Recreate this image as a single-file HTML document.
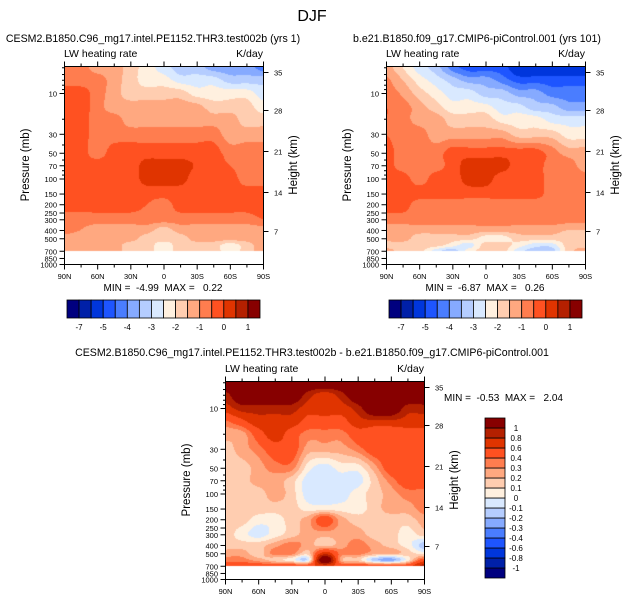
<!DOCTYPE html>
<html><head><meta charset="utf-8">
<style>
html,body{margin:0;padding:0;background:#fff;}
#wrap{position:relative;width:625px;height:602px;overflow:hidden;font-family:"Liberation Sans",sans-serif;}
canvas{position:absolute;}
svg{position:absolute;left:0;top:0;}
svg text{white-space:pre;}
</style></head>
<body>
<div id="wrap">
<canvas id="c1"></canvas>
<canvas id="c2"></canvas>
<canvas id="c3"></canvas>
<svg id="s" width="625" height="602"></svg>
</div>
<script>
const lats = [90,75,60,45,30,15,0,-15,-30,-45,-60,-75,-90];
const pLevels = [5,7,10,15,20,30,50,70,100,150,200,300,400,500,600,700];
const levels12 = [-7,-6,-5,-4.5,-4,-3.5,-3,-2.5,-2,-1.5,-1,-0.5,0,0.5,1];
const labels12 = ["-7","-5","-4","-3","-2","-1","0","1"];
const levels3 = [-1,-0.8,-0.6,-0.4,-0.3,-0.2,-0.1,0,0.1,0.2,0.3,0.4,0.6,0.8,1];
const labels3 = ["-1","-0.8","-0.6","-0.4","-0.3","-0.2","-0.1","0","0.1","0.2","0.3","0.4","0.6","0.8","1"];
const colors = ["#00007f","#0020a8","#0036dc","#1e55ff","#4a7dff","#86aaff","#b5cdff","#d9e9ff","#fff0df","#ffcdb0","#ffa880","#ff7d4f","#ff5121","#e03400","#b42000","#870000"];
const field1 = [
[-0.75,-0.75,-1.25,-1.25,-1.75,-2.25,-2.75,-3.25,-3.25,-3.75,-3.75,-3.75,-4.25],
[-0.75,-0.75,-0.75,-1.25,-1.75,-2.25,-2.25,-2.75,-2.75,-2.75,-3.25,-3.25,-3.25],
[-0.25,-0.25,-0.75,-1.25,-1.75,-1.75,-1.75,-1.75,-2.25,-2.25,-2.25,-2.25,-2.75],
[-0.25,-0.25,-0.75,-1.25,-1.25,-1.25,-1.25,-1.25,-1.25,-1.75,-1.75,-1.75,-2.25],
[-0.25,-0.25,-0.75,-0.75,-1.25,-1.25,-1.25,-1.25,-1.25,-1.25,-1.25,-1.75,-1.75],
[-0.25,-0.25,-0.75,-0.75,-0.75,-0.75,-0.75,-0.75,-0.75,-0.75,-1.25,-1.25,-1.25],
[-0.25,-0.25,-0.75,-0.25,-0.25,-0.25,-0.25,-0.25,-0.25,-0.25,-0.75,-0.75,-0.75],
[-0.25,-0.25,-0.25,-0.25,-0.25,0.2,0.2,0.2,-0.05,-0.25,-0.5,-0.75,-0.75],
[-0.25,-0.25,-0.25,-0.25,-0.25,0.2,0.2,0.2,-0.25,-0.25,-0.25,-0.75,-0.75],
[-0.25,-0.25,-0.25,-0.25,-0.25,-0.25,-0.25,-0.25,-0.25,-0.25,-0.25,-0.25,-0.25],
[-0.25,-0.25,-0.25,-0.25,-0.25,-0.5,-0.75,-0.25,-0.25,-0.25,-0.25,-0.25,-0.25],
[-0.75,-0.75,-0.75,-0.75,-0.75,-0.75,-0.75,-0.75,-0.75,-0.75,-0.75,-0.75,-0.5],
[-0.75,-1.0,-1.25,-1.25,-1.25,-1.25,-1.75,-1.25,-1.25,-1.25,-1.25,-1.25,-1.25],
[-1.25,-1.25,-1.25,-1.25,-1.25,-1.75,-1.75,-1.75,-1.25,-1.25,-1.25,-1.25,-1.25],
[-1.25,-1.25,-1.25,-1.25,-1.75,-1.75,-2.25,-1.75,-1.75,-1.75,-2.25,-1.75,-1.25],
[-1.25,-1.25,-1.25,-1.25,-1.75,-1.75,-2.25,-1.75,-1.75,-1.75,-2.25,-1.75,-1.25]];
const field2 = [
[-1.25,-2.0,-2.75,-3.25,-4.25,-4.75,-4.75,-4.75,-5.5,-5.5,-5.5,-5.5,-5.5],
[-0.9,-1.5,-2.25,-2.75,-3.25,-3.75,-3.75,-4.25,-4.75,-4.75,-4.75,-4.75,-4.75],
[-0.75,-1.1,-1.75,-2.25,-2.75,-2.75,-3.25,-3.25,-3.75,-3.75,-4.25,-4.25,-4.25],
[-0.5,-0.75,-1.25,-1.75,-2.25,-2.25,-2.25,-2.75,-2.75,-3.25,-3.25,-3.75,-3.75],
[-0.5,-0.75,-1.25,-1.25,-1.75,-1.75,-1.75,-2.25,-2.25,-2.25,-2.75,-2.75,-2.75],
[-0.5,-0.75,-0.75,-1.25,-1.25,-1.25,-1.25,-1.25,-1.75,-1.75,-1.75,-2.25,-2.25],
[-0.25,-0.75,-0.75,-0.75,-0.25,-0.25,-0.25,-0.25,-0.25,-0.25,-0.75,-1.25,-1.25],
[-0.25,-0.75,-0.75,-0.75,-0.25,0.2,0.2,0.2,-0.25,-0.25,-0.75,-0.75,-1.25],
[-0.25,-0.25,-0.75,-0.25,-0.25,0.2,0.2,-0.25,-0.25,-0.25,-0.75,-0.75,-0.75],
[-0.25,-0.25,-0.25,-0.25,-0.25,-0.25,-0.25,-0.25,-0.25,-0.25,-0.75,-0.75,-0.75],
[-0.25,-0.25,-0.75,-0.75,-0.75,-0.75,-0.75,-0.75,-0.75,-0.75,-0.75,-0.75,-0.75],
[-0.75,-0.75,-0.75,-0.75,-0.75,-0.75,-0.75,-0.75,-0.75,-0.75,-0.75,-0.75,-0.75],
[-1.25,-1.25,-1.25,-1.25,-1.25,-1.25,-1.25,-1.25,-1.25,-1.25,-1.25,-1.5,-1.5],
[-1.25,-1.25,-1.75,-1.75,-1.75,-1.75,-2.25,-2.25,-1.75,-1.75,-1.75,-1.75,-1.75],
[-1.75,-1.75,-1.75,-1.75,-2.25,-2.75,-1.75,-1.75,-2.25,-2.75,-2.75,-1.75,-1.75],
[-1.25,-1.75,-1.75,-2.75,-3.25,-2.25,-1.75,-1.75,-2.75,-3.25,-3.25,-1.75,-1.25]];
const field3 = [
[1.3,1.3,1.3,1.3,1.3,1.3,1.3,1.3,1.3,1.3,1.3,1.3,1.3],
[0.9,1.3,1.3,1.3,1.3,0.9,0.7,0.9,1.3,1.3,1.3,1.3,1.3],
[0.7,0.9,0.9,0.9,0.9,0.7,0.7,0.7,0.9,1.3,1.3,0.9,0.9],
[0.35,0.5,0.7,0.7,0.7,0.5,0.5,0.5,0.7,0.7,0.7,0.7,0.7],
[0.25,0.25,0.5,0.7,0.5,0.35,0.35,0.35,0.5,0.5,0.5,0.5,0.5],
[0.15,0.25,0.35,0.5,0.5,0.25,0.25,0.25,0.35,0.5,0.5,0.5,0.5],
[0.15,0.15,0.25,0.35,0.35,0.05,-0.05,0.05,0.05,0.25,0.5,0.5,0.5],
[0.15,0.15,0.25,0.25,0.15,-0.05,-0.05,-0.05,-0.05,0.15,0.35,0.5,0.5],
[0.15,0.15,0.15,0.25,0.15,-0.05,-0.05,-0.05,0.05,0.15,0.25,0.35,0.35],
[0.15,0.15,0.15,0.15,0.15,0.05,0.05,0.05,0.05,0.15,0.25,0.25,0.35],
[0.15,0.15,0.05,0.05,0.15,0.25,0.5,0.25,0.15,0.15,0.15,0.15,0.25],
[0.15,0.05,-0.05,0.05,0.15,0.25,0.25,0.25,0.25,0.15,0.15,0.05,0.15],
[0.15,0.15,0.15,0.25,0.35,0.25,0.15,0.25,0.35,0.25,0.15,0.05,-0.15],
[0.25,0.25,0.15,0.35,0.35,0.15,0.7,0.35,0.35,0.25,0.25,0.15,0.05],
[0.35,0.35,0.25,0.15,0.05,-0.05,1.3,0.25,0.15,-0.15,-0.25,0.05,0.5],
[0.5,0.5,0.5,0.5,0.5,0.5,0.7,0.5,0.5,0.5,0.5,0.5,0.9]];
const pTicks = [10,30,50,70,100,150,200,250,300,400,500,700,850,1000];
const hTicks = [35,28,21,14,7];
const hTickOffsets = [6,44,85,126,165];
const latTicks = ["90N","60N","30N","0","30S","60S","90S"];

const W=199,H=198, K=85.5, LOGTOP=1-27/85.5;
const yOfP = p => (Math.log10(p)-LOGTOP)*K;
const xOfLat = lat => (90-lat)/180*W;
const logL = pLevels.map(Math.log10);

function classify(v,lv){let c=0;while(c<lv.length&&v>=lv[c])c++;return c;}
function cr(p0,p1,p2,p3,t){return 0.5*((2*p1)+(-p0+p2)*t+(2*p0-5*p1+4*p2-p3)*t*t+(-p0+3*p1-3*p2+p3)*t*t*t);}
function sample(f,lat,lp){
  const nx=lats.length, ny=pLevels.length;
  let fi=(90-lat)/15; fi=Math.max(0,Math.min(nx-1.0001,fi));
  const i=Math.floor(fi), tx=fi-i;
  let j=0; if(lp>logL[0]){while(j<ny-2&&lp>logL[j+1])j++;}
  let ty=(lp-logL[j])/(logL[j+1]-logL[j]); ty=Math.max(0,Math.min(1,ty));
  const cx=k=>Math.max(0,Math.min(nx-1,k)), cy=k=>Math.max(0,Math.min(ny-1,k));
  const rows=[];
  for(let dj=-1;dj<=2;dj++){const r=f[cy(j+dj)];
    rows.push(cr(r[cx(i-1)],r[cx(i)],r[cx(i+1)],r[cx(i+2)],tx));}
  return cr(rows[0],rows[1],rows[2],rows[3],ty);
}
function drawField(id,x0,y0,f,lv){
  const c=document.getElementById(id); c.width=W; c.height=H;
  c.style.left=x0+'px'; c.style.top=y0+'px';
  const ctx=c.getContext('2d');
  const ymax=yOfP(pLevels[pLevels.length-1]);
  for(let py=0;py<Math.min(H,ymax);py++){
    const lp=LOGTOP+(py+0.5)/K;
    for(let px=0;px<W;px++){
      const lat=90-(px+0.5)/W*180;
      ctx.fillStyle=colors[classify(sample(f,lat,lp),lv)];
      ctx.fillRect(px,py,1,1);
    }
  }
}
drawField('c1',64,66,field1,levels12);
drawField('c2',386,66,field2,levels12);
drawField('c3',225,381,field3,levels3);

const NS='http://www.w3.org/2000/svg', S=document.getElementById('s');
function el(tag,attrs,txt){const e=document.createElementNS(NS,tag);for(const k in attrs)e.setAttribute(k,attrs[k]);if(txt!==undefined)e.textContent=txt;S.appendChild(e);return e;}
function text(x,y,t,size,anchor,name,rot){
  const e=el('text',{x:x,y:y,'font-size':size,'text-anchor':anchor||'start','font-family':'Liberation Sans, sans-serif',fill:'#000'},t);
  if(rot)e.setAttribute('transform','rotate(-90 '+x+' '+y+')');
  
  
  return e;
}
function line(x1,y1,x2,y2,name){const e=el('line',{x1:x1,y1:y1,x2:x2,y2:y2,stroke:'#000','stroke-width':1});
  
  }

text(312,21,'DJF',16,'middle','figure-title');

function axes(x0,y0,title,tx,pref){
  const r=el('rect',{x:x0+0.5,y:y0+0.5,width:W,height:H,fill:'none',stroke:'#000','stroke-width':1});
  
  
  if(title)text(tx,42,title,10.6,'middle',pref+'-title');
  text(x0,y0-9,'LW heating rate',10.5,'start',pref+'-left-string');
  text(x0+W,y0-9,'K/day',10.5,'end',pref+'-right-string');
  for(let l=90;l>=-90;l-=15){
    const x=x0+0.5+xOfLat(l), major=(l%30===0);
    const len=major?5:3;
    line(x,y0+H+0.5,x,y0+H+0.5+len,pref+'-x-tick');
    line(x,y0+0.5,x,y0+0.5-len,pref+'-x-tick-top');
  }
  latTicks.forEach((t,i)=>text(x0+0.5+xOfLat(90-30*i),y0+H+15,t,7.5,'middle',pref+'-x-label'));
  pTicks.forEach(p=>{const y=y0+0.5+yOfP(p);line(x0+0.5,y,x0-4.5,y,pref+'-y-tick');
    text(x0-7,y+3,String(p),7.5,'end',pref+'-y-label');});
  [5,6,7,8,9,20,40,60,80,90].forEach(p=>{const y=y0+0.5+yOfP(p);line(x0+0.5,y,x0-2,y,pref+'-y-minor-tick');});
  hTicks.forEach((h,i)=>{const y=y0+0.5+hTickOffsets[i];line(x0+W+0.5,y,x0+W+5.5,y,pref+'-height-tick');
    text(x0+W+11,y+3,String(h),7.5,'start',pref+'-height-label');});
  text(x0-35,y0+H/2,'Pressure (mb)',11.5,'middle',pref+'-y-axis-title',true);
  text(x0+W+34,y0+H/2,'Height (km)',11.5,'middle',pref+'-height-axis-title',true);
}
axes(64,66,'CESM2.B1850.C96_mg17.intel.PE1152.THR3.test002b (yrs 1)',153,'p1');
axes(386,66,'b.e21.B1850.f09_g17.CMIP6-piControl.001 (yrs 101)',477,'p2');
axes(225,381,'',312,'p3');
text(312,356,'CESM2.B1850.C96_mg17.intel.PE1152.THR3.test002b - b.e21.B1850.f09_g17.CMIP6-piControl.001',10.6,'middle','p3-title');
text(163,291,'MIN =  -4.99  MAX =   0.22',10,'middle','p1-minmax');
text(485,291,'MIN =  -6.87  MAX =   0.26',10,'middle','p2-minmax');
text(444,401,'MIN =  -0.53  MAX =   2.04',10,'start','p3-minmax');

function hbar(x0,pref){
  const bw=193/16;
  colors.forEach((c,i)=>{const r=el('rect',{x:x0+i*bw,y:300,width:bw,height:18,fill:c,stroke:'#000','stroke-width':0.8});
    
    });
  labels12.forEach((t,i)=>text(x0+(1+2*i)*bw,330,t,8,'middle',pref+'-colorbar-label'));
}
hbar(67,'p1'); hbar(389,'p2');
colors.forEach((c,i)=>{const r=el('rect',{x:485,y:418+(15-i)*10,width:20,height:10,fill:c,stroke:'#000','stroke-width':0.8});
  
  });
labels3.forEach((t,i)=>text(516,418+(15-i)*10+3,t,8,'middle','p3-colorbar-label'));
</script>
</body></html>
